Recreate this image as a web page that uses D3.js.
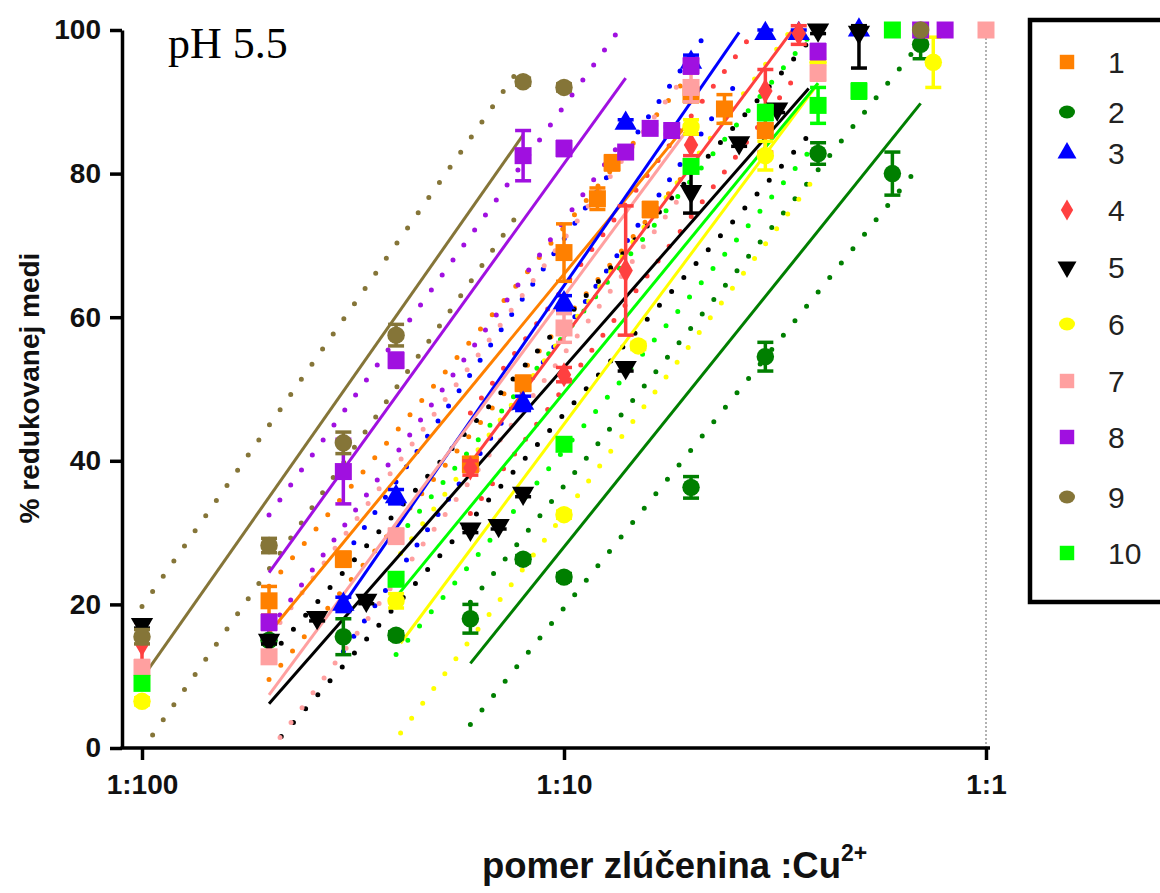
<!DOCTYPE html>
<html><head><meta charset="utf-8">
<script src="https://cdn.jsdelivr.net/npm/d3@7"></script>
<style>body{margin:0;background:#fff} svg{display:block}</style>
</head><body><svg id="c" width="1160" height="893"></svg>
<script>
// ---------- data ----------
const seriesNames = ["1","2","3","4","5","6","7","8","9","10"];
const seriesColors = ["#FF8000","#007F00","#0000FF","#FF4040","#000000","#FFFF00","#FFA0A0","#A010E0","#857538","#00FF00"];
const seriesShapes = ["square","circle","triangle","diamond","triangleDown","circle","square","square","circle","square"];

// [ratio, % reduced, error]
const pts1 = [[0.02,20.5,2],[0.03,26.3,1],[0.06,39.5,1],[0.08,50.8,1],[0.1,69,4],[0.12,76.5,1.5],[0.13,81.5,1],[0.16,75,1],[0.2,91,1],[0.24,89,2],[0.3,86,3]];
const pts2 = [[0.02,15,0.5],[0.03,15.5,2.5],[0.04,15.7,0.5],[0.06,18,2],[0.08,26.3,0.5],[0.1,23.8,0.5],[0.2,36.3,1.5],[0.3,54.5,2],[0.4,82.8,1.5],[0.6,80,3],[0.7,98,2]];
const pts3 = [[0.03,20,1],[0.04,35,1],[0.08,48,1],[0.1,62,1],[0.14,87,0.5],[0.2,95.5,1],[0.3,99.5,0.5],[0.36,99.5,0.5],[0.5,100,0]];
const pts4 = [[0.01,14.5,3],[0.06,39,1],[0.1,52,1],[0.14,66.5,9],[0.2,84,1.5],[0.3,91.5,3],[0.36,99.5,1.5]];
const pts5 = [[0.01,17.2,0.5],[0.02,15,0.5],[0.026,18.2,0.5],[0.034,20.6,0.5],[0.06,30.5,0.5],[0.07,31,0.5],[0.08,35.5,0.5],[0.14,53,0.5],[0.2,77.5,3],[0.26,84.3,0.5],[0.32,89,0.5],[0.4,100,0.5],[0.5,99.7,5]];
const pts6 = [[0.01,6.5,0.5],[0.04,20.5,1],[0.1,32.5,0.5],[0.15,56,0.5],[0.2,86.5,1],[0.3,82.5,2],[0.4,95.5,1],[0.75,95.5,3.5]];
const pts7 = [[0.01,11.2,1],[0.02,12.7,0.5],[0.04,29.5,1],[0.1,58.5,2],[0.2,92,2],[0.4,94,1],[1,100,0]];
const pts8 = [[0.02,17.5,1],[0.03,38.5,4.5],[0.04,54,1],[0.08,82.5,3.5],[0.1,83.5,1],[0.14,83,0.5],[0.16,86.3,0.5],[0.18,86,0.5],[0.2,95,1],[0.4,97,1],[0.7,100,0],[0.8,100,0]];
const pts9 = [[0.01,15.5,1],[0.02,28.2,1],[0.03,42.5,1.5],[0.04,57.5,1.5],[0.08,92.8,0.5],[0.1,92,0.5],[0.7,100,0]];
const pts10 = [[0.01,9,0.5],[0.04,23.5,0.5],[0.1,42.3,0.5],[0.2,81,0.5],[0.3,88.5,1],[0.4,89.5,2.5],[0.5,91.5,1],[0.6,100,0]];
const allPts = [pts1,pts2,pts3,pts4,pts5,pts6,pts7,pts8,pts9,pts10];

// linear fit in log10(ratio): y = fitAt01 + fitSlope*(log10(x)+1)
const fitAt01 = [66, 28, 64.4, 57.2, 53, 45.1, 62.9, 81.4, 93.5, 49.5];
const fitSlope = [71.5, 73.1, 85, 79, 67, 78.8, 79.4, 81.5, 83.8, 71.6];
const fitFrom = [0.02, 0.06, 0.03, 0.06, 0.02, 0.041, 0.02, 0.02, 0.01, 0.04];
const fitTo   = [0.2, 0.7, 0.26, 0.36, 0.38, 0.4, 0.2, 0.14, 0.08, 0.4];
const bandHalf = [6.5, 8.5, 6.5, 7, 6.5, 12.5, 8, 8, 10, 8];

const xTickVals = [0.01, 0.1, 1];
const xTickLabels = ["1:100", "1:10", "1:1"];
const yTickVals = [0, 20, 40, 60, 80, 100];

// ---------- layout ----------
const svg = d3.select("#c");
const x = d3.scaleLog().domain([0.01, 1]).range([142, 986]);
const y = d3.scaleLinear().domain([0, 100]).range([748, 30]);
const FONT = "'Liberation Sans', Arial, sans-serif";
const legendRowY = [62, 112, 153, 210, 267, 324, 381, 437, 497, 553];

svg.append("defs").append("clipPath").attr("id","plotclip")
  .append("rect").attr("x",122).attr("y",30).attr("width",880).attr("height",718);

// reference dotted line at 1:1
svg.append("line").attr("x1",x(1)).attr("x2",x(1)).attr("y1",y(100)).attr("y2",y(0))
  .attr("stroke","#999").attr("stroke-width",1.5).attr("stroke-dasharray","2 2");

const plot = svg.append("g").attr("clip-path","url(#plotclip)");
const fitY = (i, xv, off) => fitAt01[i] + fitSlope[i]*(Math.log10(xv)+1) + off;
const lineGen = d3.line().x(d => x(d[0])).y(d => y(d[1]));

// bands (dotted)
seriesNames.forEach((n,i) => {
  [bandHalf[i], -bandHalf[i]].forEach(off => {
    const d = [[fitFrom[i], fitY(i, fitFrom[i], off)], [fitTo[i], fitY(i, fitTo[i], off)]];
    plot.append("path").attr("d", lineGen(d)).attr("fill","none")
      .attr("stroke", seriesColors[i]).attr("stroke-width",5)
      .attr("stroke-linecap","round").attr("stroke-dasharray","0 18.5");
  });
});
// fit lines
seriesNames.forEach((n,i) => {
  const d = [[fitFrom[i], fitY(i, fitFrom[i], 0)], [fitTo[i], fitY(i, fitTo[i], 0)]];
  plot.append("path").attr("d", lineGen(d)).attr("fill","none")
    .attr("stroke", seriesColors[i]).attr("stroke-width",3);
});

function symPath(shape, k) {
  switch (shape) {
    case "square": return d3.symbol(d3.symbolSquare, 289*k*k)();
    case "circle": return d3.symbol(d3.symbolCircle, 240*k*k)();
    case "triangle": return d3.symbol(d3.symbolTriangle, 215*k*k)();
    case "triangleDown": return d3.symbol(d3.symbolTriangle, 215*k*k)();
    case "diamond": return d3.symbol(d3.symbolDiamond, 180*k*k)();
  }
}

// error bars + points
seriesNames.forEach((n,i) => {
  const g = svg.append("g");
  const c = seriesColors[i];
  allPts[i].forEach(p => {
    if (p[2] > 0) {
      const top = Math.min(100.6, p[1]+p[2]), bot = Math.max(0, p[1]-p[2]);
      const px = x(p[0]);
      g.append("line").attr("x1",px).attr("x2",px).attr("y1",y(top)).attr("y2",y(bot))
        .attr("stroke",c).attr("stroke-width",3.5);
      [top, bot].forEach(v => g.append("line").attr("x1",px-8).attr("x2",px+8)
        .attr("y1",y(v)).attr("y2",y(v)).attr("stroke",c).attr("stroke-width",3.5));
    }
    g.append("path").attr("d", symPath(seriesShapes[i], 1))
      .attr("transform", `translate(${x(p[0])},${y(p[1])})` + (seriesShapes[i]==="triangleDown" ? " rotate(180)" : ""))
      .attr("fill", c);
  });
});

// axes
const yAxis = svg.append("g").attr("transform","translate(122,0)")
  .call(d3.axisLeft(y).tickValues(yTickVals).tickSize(12).tickSizeOuter(0).tickPadding(9));
const xAxis = svg.append("g").attr("transform","translate(0,748)")
  .call(d3.axisBottom(x).tickValues(xTickVals).tickFormat((d,k) => xTickLabels[k]).tickSize(12).tickPadding(14));
xAxis.select(".domain").remove();
svg.append("line").attr("x1",120.5).attr("x2",990).attr("y1",748).attr("y2",748)
  .attr("stroke","#000").attr("stroke-width",3.5);
[yAxis, xAxis].forEach(a => {
  a.selectAll("path,line").attr("stroke","#000").attr("stroke-width",3.5);
  a.selectAll("text").attr("font-family",FONT).attr("font-size",28).attr("font-weight","bold").attr("fill","#111");
});

// titles
svg.append("text").attr("transform","translate(39,388) rotate(-90)").attr("text-anchor","middle")
  .attr("font-family",FONT).attr("font-size",28).attr("font-weight","bold").attr("fill","#111").text("% redukovanej medi");
const xt = svg.append("text").attr("x",482).attr("y",878)
  .attr("font-family",FONT).attr("font-size",36.5).attr("font-weight","bold").attr("fill","#111");
xt.append("tspan").text("pomer zlúčenina :Cu");
xt.append("tspan").attr("dy",-17).attr("font-size",23).text("2+");
svg.append("text").attr("x",168).attr("y",58).attr("font-family","'Liberation Serif','Times New Roman',serif")
  .attr("font-size",44).text("pH 5.5");

// legend
svg.append("rect").attr("x",1030).attr("y",20).attr("width",220).attr("height",582)
  .attr("fill","#fff").attr("stroke","#000").attr("stroke-width",4.5);
seriesNames.forEach((n,i) => {
  const ly = legendRowY[i];
  const shape = seriesShapes[i];
  if (shape === "circle") {
    svg.append("ellipse").attr("cx",1067).attr("cy",ly).attr("rx",8).attr("ry",6.5).attr("fill",seriesColors[i]);
  } else {
    svg.append("path").attr("d", symPath(shape, 0.85))
      .attr("transform", `translate(1067,${ly})` + (shape==="triangleDown" ? " rotate(180)" : ""))
      .attr("fill", seriesColors[i]);
  }
  svg.append("text").attr("x",1108).attr("y",ly+11).attr("font-family",FONT).attr("font-size",30)
    .attr("fill","#222").text(n);
});
</script></body></html>
